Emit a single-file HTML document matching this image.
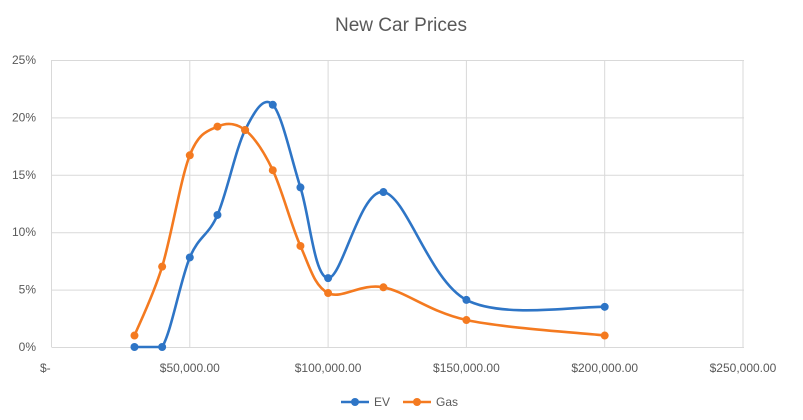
<!DOCTYPE html>
<html><head><meta charset="utf-8"><style>
body{margin:0;background:#fff;}
svg{display:block;font-family:"Liberation Sans",sans-serif;}
</style></head><body>
<svg id="s" width="803" height="420" xmlns="http://www.w3.org/2000/svg">
<rect width="803" height="420" fill="#fff"/>
<text x="401" y="31" text-anchor="middle" font-size="19" fill="#595959">New Car Prices</text>
<g id="grid" stroke="#d9d9d9" stroke-width="1"></g>
<g id="lbl" font-size="12" fill="#595959"></g>
<g id="series"></g>
<g font-size="12" fill="#595959">
<line x1="341" y1="402" x2="369" y2="402" stroke="#2e75c6" stroke-width="2.5"/><circle cx="355" cy="402" r="4" fill="#2e75c6"/>
<text x="374" y="406">EV</text>
<line x1="403" y1="402" x2="431" y2="402" stroke="#f47a20" stroke-width="2.5"/><circle cx="417" cy="402" r="4" fill="#f47a20"/>
<text x="436" y="406">Gas</text>
</g>
</svg>
<script>
var X=function(v){return 51.5+v/50000*138.3;},Y=function(p){return 347-p*11.48;};
var ns="http://www.w3.org/2000/svg",g=document.getElementById('grid'),l=document.getElementById('lbl');
function el(p,t,a,txt){var e=document.createElementNS(ns,t);for(var k in a)e.setAttribute(k,a[k]);if(txt)e.textContent=txt;p.appendChild(e);return e;}
for(var i=0;i<=5;i++){var y=Y(i*5);el(g,'line',{x1:51.5,x2:744,y1:y+.5,y2:y+.5});el(l,'text',{x:36,y:y+4,'text-anchor':'end'},i*5+'%');}
var xl=['$-','$50,000.00','$100,000.00','$150,000.00','$200,000.00','$250,000.00'];
for(var i=0;i<=5;i++){var x=X(i*50000);el(g,'line',{x1:x,x2:x,y1:Y(25),y2:Y(0)});el(l,'text',{x:i==0?40:x,y:372,'text-anchor':i==0?'start':'middle'},xl[i]);}
var xs=[30,40,50,60,70,80,90,100,120,150,200];
var ev=[0,0,7.8,11.5,18.9,21.1,13.9,6,13.5,4.1,3.5];
var gas=[1,7,16.7,19.2,18.9,15.4,8.8,4.7,5.2,2.35,1];
var S=document.getElementById('series');
function draw(d,c){var p=xs.map(function(x,i){return [X(x*1000),Y(d[i])];});
var s='M'+p[0];for(var i=0;i<p.length-1;i++){var p0=p[i-1]||p[i],p1=p[i],p2=p[i+1],p3=p[i+2]||p2,t=1/6;
var y1=Math.min(347,p1[1]+(p2[1]-p0[1])*t),y2=Math.min(347,p2[1]-(p3[1]-p1[1])*t);
s+='C'+(p1[0]+(p2[0]-p0[0])*t)+','+y1+' '+(p2[0]-(p3[0]-p1[0])*t)+','+y2+' '+p2;}
el(S,'path',{d:s,fill:'none',stroke:c,'stroke-width':2.6});
p.forEach(function(q){el(S,'circle',{cx:q[0],cy:q[1],r:4,fill:c});});}
draw(ev,'#2e75c6');draw(gas,'#f47a20');
</script>
</body></html>
